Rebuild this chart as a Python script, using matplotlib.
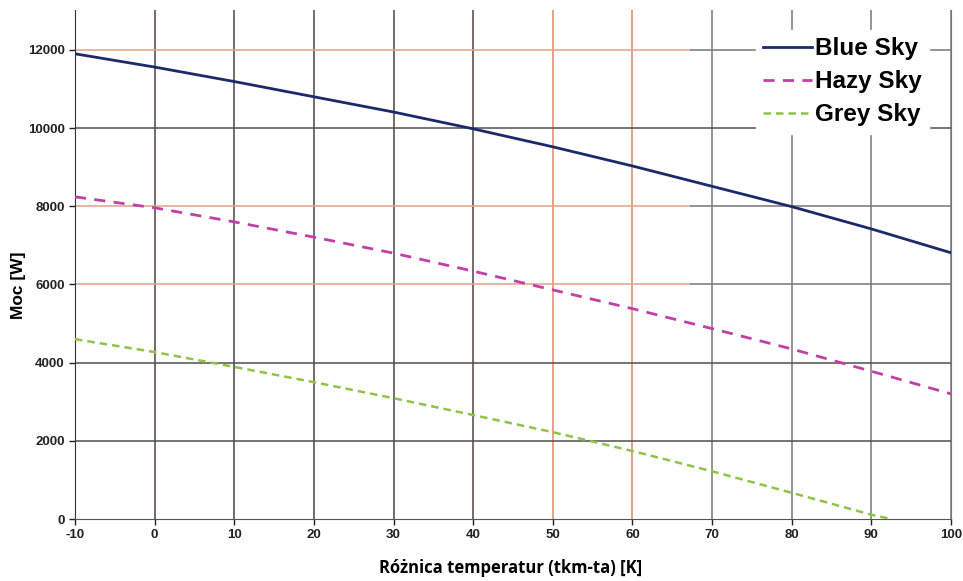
import matplotlib
matplotlib.use("Agg")
import matplotlib.pyplot as plt

# values (x = temperature difference, y = power)
x = [-10, 0, 10, 20, 30, 40, 50, 60, 70, 80, 90, 100]
blue_sky = [11900, 11560, 11190, 10800, 10410, 9980, 9520, 9030, 8510, 7990, 7420, 6810]
hazy_sky = [8240, 7960, 7600, 7210, 6800, 6340, 5860, 5380, 4870, 4350, 3780, 3200]
x_grey = [-10, 0, 10, 20, 30, 40, 50, 60, 70, 80, 90, 92.5]
grey_sky = [4600, 4270, 3890, 3500, 3090, 2660, 2220, 1740, 1220, 670, 110, 0]

xticks = list(range(-10, 101, 10))
yticks = list(range(0, 12001, 2000))

plt.rcParams['font.family'] = ['Liberation Sans', 'DejaVu Sans']
plt.rcParams['axes.unicode_minus'] = False

fig = plt.figure(figsize=(9.63, 5.81), dpi=100)
ax = fig.add_axes([75 / 963, 1 - 519 / 581, 876 / 963, 509 / 581])

ax.set_xlim(-10, 100)
ax.set_ylim(0, 13020)
ax.set_xticks(xticks)
ax.set_yticks(yticks)

# grid, darker grey with the brownish/orange tint of the original on the left part
for v in xticks[1:]:
    if v <= 40:
        c = '#4f4240'
    elif v <= 60:
        c = '#d88a6c'
    else:
        c = '#777777'
    ax.axvline(v, color=c, lw=1.1, zorder=1)
frac = (67.3 + 10) / 110
for v in yticks[1:]:
    if v in (6000, 8000, 12000):
        ax.axhline(v, xmax=frac, color='#e0a088', lw=1.1, zorder=1)
        ax.axhline(v, xmin=frac, color='#777777', lw=1.1, zorder=1)
    else:
        ax.axhline(v, color='#505050', lw=1.1, zorder=1)

ax.plot(x, blue_sky, color='#1c2a6b', lw=2, label='Blue Sky', zorder=3)
ax.plot(x, hazy_sky, color='#c23fa6', lw=2, ls=(0, (4, 3)), label='Hazy Sky', zorder=3)
ax.plot(x_grey, grey_sky, color='#8fc447', lw=1.8, ls=(0, (3, 2)), label='Grey Sky', zorder=3)

ax.spines['top'].set_visible(False)
ax.spines['right'].set_color('#777777')
ax.spines['left'].set_color('#333333')
ax.spines['bottom'].set_color('#555555')
ax.tick_params(length=4, width=1, colors='#222222', labelsize=9.5)
for lab in ax.get_xticklabels() + ax.get_yticklabels():
    lab.set_fontweight('bold')

ax.set_ylabel('Moc [W]', fontsize=12.5, fontweight='bold')
ax.yaxis.set_label_coords(-0.056, 0.46)
ax.set_xlabel('Różnica temperatur (tkm-ta) [K]', fontsize=12, fontweight='bold',
              family=['Open Sans', 'DejaVu Sans'])
ax.xaxis.set_label_coords(0.497, -0.078)

leg = ax.legend(loc='upper right', bbox_to_anchor=(0.989, 0.985),
                prop={'weight': 'bold', 'size': 17.5}, frameon=True, fancybox=False,
                handlelength=2.0, handletextpad=0.15, labelspacing=0.42, borderpad=0.3)
leg.get_frame().set_edgecolor('white')
leg.get_frame().set_facecolor('white')
leg.get_frame().set_alpha(1)

fig.savefig('out.png', dpi=100)
